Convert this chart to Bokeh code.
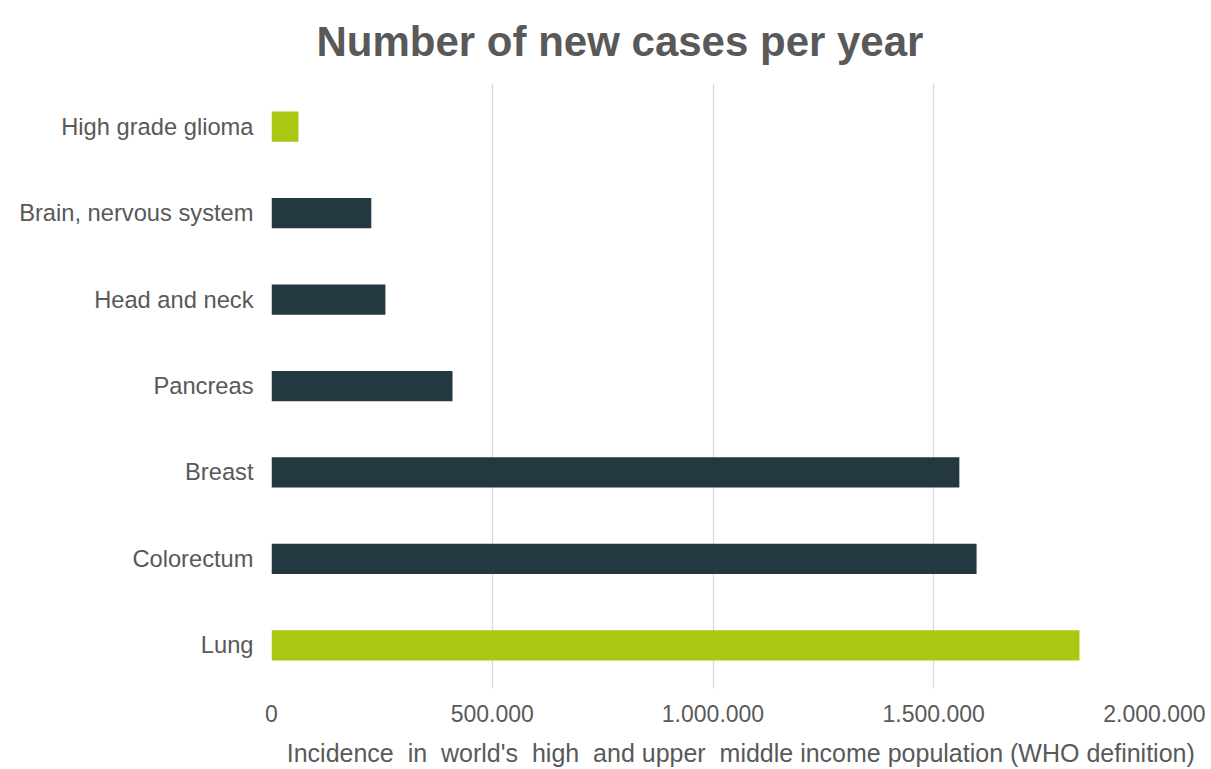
from bokeh.plotting import figure
from bokeh.models import FactorRange, Range1d, FixedTicker, ColumnDataSource, Title
from bokeh.embed import file_html
from bokeh.resources import INLINE

# Data (top to bottom in the chart)
categories = ["High grade glioma", "Brain, nervous system", "Head and neck", "Pancreas",
              "Breast", "Colorectum", "Lung"]
new_cases = [61000, 226000, 258000, 410000, 1558000, 1597000, 1830000]
bar_colors = ["#aac811", "#233841", "#233841", "#233841", "#233841", "#233841", "#aac811"]
x_ticks = [0, 500000, 1000000, 1500000, 2000000]
x_tick_labels = ["0", "500.000", "1.000.000", "1.500.000", "2.000.000"]

title_text = "Number of new cases per year"
NB = "\u00a0"
x_label = (NB * 8 + "Incidence" + NB + " in" + NB + " world's" + NB + " high" + NB + " and upper"
           + NB + " middle income population (WHO definition)")

TEXT = "#595959"
FONT = "Liberation Sans"

factors = list(reversed(categories))
src = ColumnDataSource(dict(cat=categories, val=new_cases, color=bar_colors))

p = figure(width=1211, height=769, y_range=FactorRange(*factors, range_padding=0),
           x_range=Range1d(0, 2000000), output_backend="svg", toolbar_location=None,
           min_border_left=271, min_border_right=57, min_border_top=83, min_border_bottom=79)

p.hbar(y="cat", right="val", left=0, height=0.35, color="color", source=src, line_color=None)

p.title = Title(text=title_text, text_font=FONT, text_font_size="42px", text_font_style="bold",
                text_color=TEXT, align="left", offset=45, standoff=33, vertical_align="top")

p.outline_line_color = None
p.background_fill_color = "white"
p.border_fill_color = "white"

p.ygrid.grid_line_color = None
p.xgrid.grid_line_color = "#d9d9d9"
p.xgrid.grid_line_width = 1.3
p.xgrid.ticker = FixedTicker(ticks=x_ticks)

p.xaxis.ticker = FixedTicker(ticks=x_ticks)
p.xaxis.major_label_overrides = {t: l for t, l in zip(x_ticks, x_tick_labels)}
p.xaxis.axis_line_color = None
p.xaxis.major_tick_line_color = None
p.xaxis.minor_tick_line_color = None
p.xaxis.major_label_text_font = FONT
p.xaxis.major_label_text_font_size = "23px"
p.xaxis.major_label_text_color = TEXT
p.xaxis.major_label_standoff = 10
p.xaxis.axis_label = x_label
p.xaxis.axis_label_text_font = FONT
p.xaxis.axis_label_text_font_size = "25px"
p.xaxis.axis_label_text_font_style = "normal"
p.xaxis.axis_label_text_color = TEXT
p.xaxis.axis_label_standoff = 14

p.yaxis.axis_line_color = None
p.yaxis.major_tick_line_color = None
p.yaxis.minor_tick_line_color = None
p.yaxis.major_label_text_font = FONT
p.yaxis.major_label_text_font_size = "23.7px"
p.yaxis.major_label_text_color = TEXT
p.yaxis.major_label_standoff = 12

open("out.html", "w").write(file_html(p, INLINE))
